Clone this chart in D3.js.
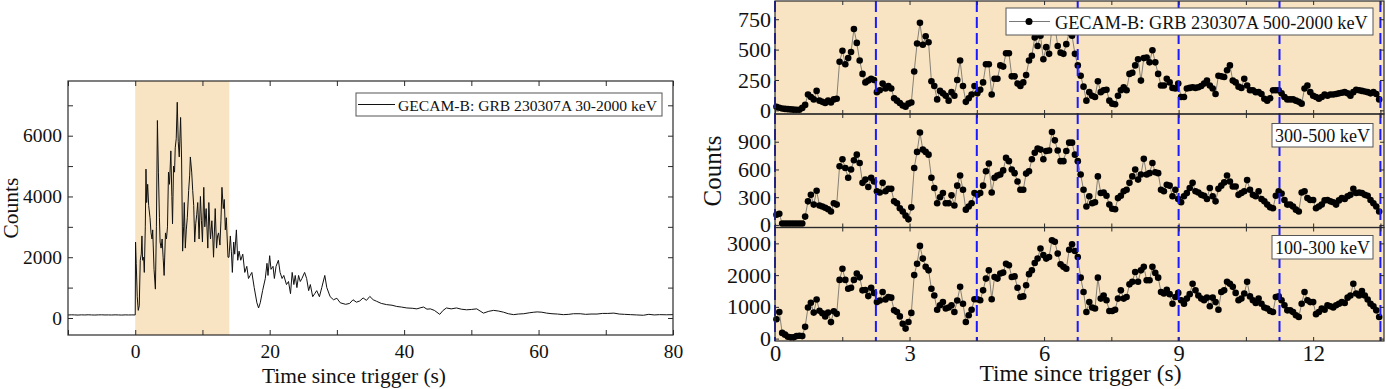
<!DOCTYPE html>
<html><head><meta charset="utf-8">
<script src="https://cdn.jsdelivr.net/npm/d3@7"></script>
<style>body{margin:0;background:#fff}svg{display:block}</style>
</head><body>
<svg id="c" width="1386" height="389"></svg>
<script>
// ---------------- DATA ----------------
// Left panel: GECAM-B 30-2000 keV light curve (time s, counts)
const leftTime = [-10,-9.5,-9,-8.5,-8,-7.5,-7,-6.5,-6,-5.5,-5,-4.5,-4,-3.5,-3,-2.5,-2,-1.5,-1,-0.5,
0,0.05,0.15,0.3,0.45,0.6,0.75,0.9,1.0,1.1,
1.25,1.35,1.5,1.6,1.7,1.85,2.0,2.2,2.35,2.5,
2.6,2.8,3.0,3.15,3.3,3.45,3.6,3.7,3.85,4.0,
4.15,4.3,4.5,4.65,4.8,4.95,5.1,5.3,5.45,5.55,
5.7,5.85,5.95,6.1,6.25,6.4,6.55,6.75,6.9,7.05,
7.2,7.3,7.45,7.6,7.75,7.95,8.1,8.2,8.4,8.55,
8.7,8.85,9.0,9.15,9.3,9.5,9.7,9.85,10.0,10.2,
10.35,10.55,10.8,10.95,11.1,11.2,11.4,11.55,11.65,11.9,
12.1,12.25,12.4,12.6,12.75,12.9,13.1,13.25,13.4,13.55,
13.8,13.95,14.15,14.3,14.45,14.65,14.8,15.05,15.25,15.45,
15.7,16.0,16.3,16.6,16.85,17.1,17.35,17.7,18.1,18.35,
18.6,18.95,19.35,19.6,19.75,20.0,20.2,20.5,20.7,20.95,
21.3,21.55,21.85,22.1,22.5,22.8,23.1,23.35,23.6,23.8,
24.05,24.3,24.55,24.8,25.2,25.5,25.8,26.05,26.4,26.7,
27.0,27.4,27.75,28.2,28.5,29.0,29.5,30.0,30.5,31.3,
31.9,32.4,32.9,33.4,33.9,34.4,34.9,35.4,35.9,36.6,
37.4,38.2,38.9,39.6,40.4,41.2,41.9,42.5,42.9,43.4,
43.9,44.5,45.3,45.8,46.3,47.0,47.8,48.5,49.3,50.0,
50.8,51.3,51.8,52.6,53.3,54.0,54.8,55.5,56.3,57.0,
57.8,58.6,59.3,59.8,60.5,61.2,62.0,62.8,63.7,64.5,
65.2,66.2,67.0,67.8,68.7,69.5,70.3,71.2,72.0,72.8,
73.7,74.6,75.6,76.4,77.2,78.0,79.0,80.0];
const leftCounts = [98,104,101,96,103,99,105,100,97,102,104,99,101,98,103,100,96,102,99,101,
100,2500,1800,700,250,400,1900,2100,2700,1900,
2000,1500,3000,4900,3800,4400,3700,3300,2800,2600,
2900,1600,950,3000,6500,4800,3300,2500,2300,2600,
2000,1400,2800,2600,3000,4800,4400,5500,4000,3100,
5000,4800,5600,5900,7100,5800,5300,6600,5200,2200,
3000,3800,2300,2900,3300,4200,4700,5300,4800,4200,
3700,2500,3100,3400,3800,2600,4000,3200,2500,4300,
3000,3600,2300,3800,3000,2600,3200,2600,2000,3600,
2300,2700,2800,2400,3200,4300,3600,3900,2900,3300,
2000,2000,2700,2200,1500,2500,2100,2900,1900,2200,
1900,2100,1500,1700,1300,1400,1500,1000,500,330,
500,900,1300,1800,1400,2050,1600,1700,1300,1700,
1900,1500,1300,1400,1100,1200,800,1500,1100,1400,
1000,1400,1200,1300,1500,1300,900,1100,700,800,
900,700,1000,1400,1000,700,600,650,500,450,
480,600,520,560,660,580,710,600,550,480,
440,420,380,360,330,320,300,340,360,290,
300,250,120,250,330,300,330,290,270,280,
300,230,160,220,250,230,190,140,110,130,
140,170,190,200,190,160,140,130,110,120,
140,140,120,130,130,150,150,160,130,120,
110,100,90,120,100,110,105,110];

// Right panels: 64 ms binned counts, 0 - 13.5 s
const binWidth = 0.064;
const counts500to2000 = [30,22,15,12,10,8,6,5,5,20,45,130,110,90,160,80,70,60,80,65,
90,95,400,490,380,430,480,670,555,410,300,230,245,260,250,150,165,220,180,200,
180,100,80,60,40,30,55,65,320,550,720,540,610,560,240,200,90,160,140,120,
80,150,120,250,410,200,70,100,130,200,140,170,230,380,380,130,260,260,370,360,
470,470,280,280,220,200,230,290,410,450,600,530,
615,420,520,465,680,700,530,475,465,545,640,615,465,370,285,195,80,150,120,110,
240,150,165,170,80,55,50,120,165,190,165,300,310,370,420,245,430,435,395,495,
395,300,205,205,260,230,185,180,220,110,110,180,185,190,185,190,200,220,245,205,
180,135,285,280,275,330,370,245,230,195,185,260,205,165,165,150,150,135,95,80,
100,165,165,165,140,110,90,90,90,80,70,55,180,205,150,120,110,95,110,130,
120,130,130,135,140,145,150,140,120,150,170,165,160,155,150,140,150,135,90];
const counts300to500 = [110,120,15,15,15,15,15,15,15,15,
90,255,325,220,370,210,200,185,170,145,
235,220,635,710,615,510,600,700,760,670,
455,490,410,510,470,365,350,455,365,390,
390,255,235,180,145,100,60,190,615,790,
1000,815,790,760,510,400,235,300,345,235,
235,320,210,425,535,380,165,200,235,345,
325,345,425,580,665,350,510,535,545,590,
725,690,600,560,470,380,380,555,580,710,
780,825,
815,710,800,805,1005,915,805,690,690,800,
890,890,760,690,545,380,200,310,235,245,
525,345,350,315,220,175,170,290,315,365,
380,455,525,600,490,545,715,545,560,670,
570,560,380,365,435,425,310,380,280,245,
310,345,400,455,365,350,325,315,280,400,
310,255,390,425,460,535,470,415,415,325,
345,365,485,380,325,310,365,280,255,220,
190,180,315,365,340,270,220,220,200,165,
145,350,365,290,270,270,180,200,220,265,
270,255,245,220,265,290,280,310,325,390,
345,350,345,325,315,270,235,200,145];
const counts100to300 = [610,840,180,125,60,40,40,80,90,80,
370,980,1130,820,1230,880,800,700,820,520,
860,780,1850,2200,1850,1570,1600,1850,2050,1930,
1520,1530,1340,1600,1440,1150,1200,1470,1230,1310,
1290,890,840,700,470,315,525,810,2000,2360,
2920,2520,2260,2150,1570,1360,910,1050,1150,950,
980,1050,840,1200,1630,1100,525,735,910,1240,
1240,1210,1520,1890,2150,1240,1940,1890,2050,2080,
2360,2310,1940,1960,1600,1310,1330,1680,2030,2150,
2380,2520,
2840,2630,2520,2570,3100,3050,2680,2340,2260,2200,
2800,2970,2760,2570,1920,1470,840,1150,980,950,
1920,1260,1360,1210,870,870,910,1260,1520,1260,
1310,1710,1790,2100,1790,2150,2260,1840,1840,2260,
2070,1920,1470,1420,1540,1400,1100,1310,1440,1210,
1100,1260,1400,1730,1520,1360,1260,1210,1290,1020,
1290,1150,910,1470,1520,1790,1730,1630,1440,1210,
1260,1420,1790,1330,1210,1120,1260,1100,980,950,
870,840,1310,1330,1210,1050,890,890,840,735,
680,1100,1470,1210,1150,1150,770,840,950,910,
1050,1020,980,1050,1100,1150,1120,1290,1360,1730,
1420,1360,1500,1360,1230,1100,1020,890,680];

// Ticks, labels, markers
const leftXTickLabels = [0,20,40,60,80];
const leftXTicks = [-10,0,10,20,30,40,50,60,70,80];
const leftYTickLabels = [0,2000,4000,6000];
const leftYTicks = [0,1000,2000,3000,4000,5000,6000,7000];
const rightXTickLabels = [0,3,6,9,12];
const rightXTicks = [0,1.5,3,4.5,6,7.5,9,10.5,12,13.5];
const yTicks500to2000 = [0,250,500,750];
const yTicks300to500 = [0,300,600,900];
const yTicks100to300 = [0,1000,2000,3000];
const dashedTimes = [0,2.25,4.5,6.75,9,11.25,13.5];
const shadeRange = [0,14];
const leftLegend = "GECAM-B: GRB 230307A 30-2000 keV";
const panelLabels = ["GECAM-B: GRB 230307A 500-2000 keV","300-500 keV","100-300 keV"];
const xTitle = "Time since trigger (s)";
const yTitle = "Counts";

[counts500to2000,counts300to500,counts100to300].forEach((a,i)=>{ if(a.length!==211) throw new Error("len "+i+" "+a.length); });
if (leftTime.length!==leftCounts.length) throw new Error("left len "+leftTime.length+" "+leftCounts.length);

// ---------------- DRAW ----------------
const FONT = '"Liberation Serif","Times New Roman",serif';
const SHADE = "#f8e4c2";
const AX = "#2a2a2a";
const svg = d3.select("#c");
const plain = d => String(d);

function styleAxis(g, size){
  g.attr("font-family", FONT).attr("font-size", size);
  g.select(".domain").remove();
  g.selectAll(".tick line").attr("stroke", AX).attr("stroke-width", 1);
  g.selectAll(".tick text").attr("fill", "#111");
}

// ---- Left panel ----
const L = {x0:68, x1:673, y0:81, y1:335};
const xL = d3.scaleLinear().domain([-10,80]).range([L.x0,L.x1]);
const yL = d3.scaleLinear().domain([-560,7800]).range([L.y1,L.y0]);

svg.append("rect").attr("x", xL(shadeRange[0])).attr("y", L.y0)
  .attr("width", xL(shadeRange[1]) - xL(shadeRange[0])).attr("height", L.y1 - L.y0).attr("fill", SHADE);

svg.append("path").datum(d3.zip(leftTime, leftCounts))
  .attr("d", d3.line().x(d => xL(d[0])).y(d => yL(d[1])))
  .attr("fill","none").attr("stroke","#111").attr("stroke-width",1).attr("stroke-linejoin","round");

svg.append("rect").attr("x",L.x0).attr("y",L.y0).attr("width",L.x1-L.x0).attr("height",L.y1-L.y0)
  .attr("fill","none").attr("stroke",AX).attr("stroke-width",1.2);

styleAxis(svg.append("g").attr("transform",`translate(0,${L.y1})`)
  .call(d3.axisBottom(xL).tickValues(leftXTicks).tickSize(-5).tickPadding(9)
    .tickFormat(d => leftXTickLabels.includes(d) ? plain(d) : "")), 19.5);
styleAxis(svg.append("g").attr("transform",`translate(0,${L.y0})`)
  .call(d3.axisTop(xL).tickValues(leftXTicks).tickSize(-5).tickFormat("")), 19.5);
styleAxis(svg.append("g").attr("transform",`translate(${L.x0},0)`)
  .call(d3.axisLeft(yL).tickValues(leftYTicks).tickSize(-5).tickPadding(6)
    .tickFormat(d => leftYTickLabels.includes(d) ? plain(d) : "")), 19.5);
styleAxis(svg.append("g").attr("transform",`translate(${L.x1},0)`)
  .call(d3.axisRight(yL).tickValues(leftYTicks).tickSize(-5).tickFormat("")), 19.5);

// legend (left)
svg.append("rect").attr("x",356).attr("y",93).attr("width",306).attr("height",23)
  .attr("fill","#fff").attr("stroke","#555").attr("stroke-width",1);
svg.append("line").attr("x1",358).attr("x2",395).attr("y1",104.5).attr("y2",104.5).attr("stroke","#111").attr("stroke-width",1);
svg.append("text").attr("x",398).attr("y",110.5).attr("font-family",FONT).attr("font-size",15.6).attr("fill","#111").text(leftLegend);

// titles (left)
svg.append("text").attr("x",354).attr("y",383).attr("text-anchor","middle")
  .attr("font-family",FONT).attr("font-size",21.4).attr("fill","#111").text(xTitle);
svg.append("text").attr("transform","translate(10,208) rotate(-90)").attr("dy","0.35em").attr("text-anchor","middle")
  .attr("font-family",FONT).attr("font-size",21.5).attr("fill","#111").text(yTitle);

// ---- Right panels ----
const R = {x0:775, x1:1384, y0:1, y1:341};
const xR = d3.scaleLinear().domain([0,13.58]).range([R.x0,R.x1]);
const panels = [
  {top:1, bottom:114, domain:[-30,900], ticks:yTicks500to2000, data:counts500to2000},
  {top:114, bottom:227.5, domain:[-28,1200], ticks:yTicks300to500, data:counts300to500},
  {top:227.5, bottom:341, domain:[-75,3500], ticks:yTicks100to300, data:counts100to300}
];

svg.append("rect").attr("x",R.x0).attr("y",R.y0).attr("width",R.x1-R.x0).attr("height",R.y1-R.y0).attr("fill",SHADE);

panels.forEach((p, k) => {
  const y = d3.scaleLinear().domain(p.domain).range([p.bottom, p.top]);
  p.y = y;
  const pts = p.data.map((v,i) => [(i+0.5)*binWidth, v]);
  const g = svg.append("g");
  g.append("path").datum(pts)
    .attr("d", d3.line().x(d => xR(d[0])).y(d => y(d[1])))
    .attr("fill","none").attr("stroke","#555").attr("stroke-width",0.7);
  g.selectAll("circle").data(pts).join("circle")
    .attr("cx", d => xR(d[0])).attr("cy", d => y(d[1])).attr("r", 3.3).attr("fill","#000");
});

// dashed blue lines
svg.selectAll("line.dash").data(dashedTimes).join("line").attr("class","dash")
  .attr("x1", d => xR(d)).attr("x2", d => xR(d)).attr("y1", R.y0).attr("y2", R.y1)
  .attr("stroke","#1a1aff").attr("stroke-width",2).attr("stroke-dasharray","11,5");

panels.forEach((p, k) => {
  svg.append("rect").attr("x",R.x0).attr("y",p.top).attr("width",R.x1-R.x0).attr("height",p.bottom-p.top)
    .attr("fill","none").attr("stroke",AX).attr("stroke-width",1.2);
  styleAxis(svg.append("g").attr("transform",`translate(0,${p.bottom})`)
    .call(d3.axisBottom(xR).tickValues(rightXTicks).tickSize(-4).tickPadding(4.5)
      .tickFormat(d => (k===2 && rightXTickLabels.includes(d)) ? plain(d) : "")), 22.5);
  styleAxis(svg.append("g").attr("transform",`translate(0,${p.top})`)
    .call(d3.axisTop(xR).tickValues(rightXTicks).tickSize(-4).tickFormat("")), 22.5);
  styleAxis(svg.append("g").attr("transform",`translate(${R.x0},0)`)
    .call(d3.axisLeft(p.y).tickValues(p.ticks).tickSize(-4).tickPadding(4).tickFormat(plain)), 22);
  styleAxis(svg.append("g").attr("transform",`translate(${R.x1},0)`)
    .call(d3.axisRight(p.y).tickValues(p.ticks).tickSize(-4).tickFormat("")), 22);
});

// legends (right)
svg.append("rect").attr("x",1006).attr("y",8).attr("width",367).attr("height",27)
  .attr("fill","#fff").attr("stroke","#555").attr("stroke-width",1);
svg.append("line").attr("x1",1009).attr("x2",1050).attr("y1",21.5).attr("y2",21.5).attr("stroke","#555").attr("stroke-width",0.8);
svg.append("circle").attr("cx",1029).attr("cy",21.5).attr("r",3.5).attr("fill","#000");
svg.append("text").attr("x",1055).attr("y",29).attr("font-family",FONT).attr("font-size",18.3).attr("fill","#111").text(panelLabels[0]);

[[123.5,142],[235.5,254]].forEach((b,i) => {
  svg.append("rect").attr("x",1272).attr("y",b[0]).attr("width",101).attr("height",23.5)
    .attr("fill","#fff").attr("stroke","#555").attr("stroke-width",1);
  svg.append("text").attr("x",1322.5).attr("y",b[1]).attr("text-anchor","middle")
    .attr("font-family",FONT).attr("font-size",18.1).attr("fill","#111").text(panelLabels[i+1]);
});

// titles (right)
svg.append("text").attr("x",1080.5).attr("y",381).attr("text-anchor","middle")
  .attr("font-family",FONT).attr("font-size",23.5).attr("fill","#111").text(xTitle);
svg.append("text").attr("transform","translate(712.5,171) rotate(-90)").attr("dy","0.35em").attr("text-anchor","middle")
  .attr("font-family",FONT).attr("font-size",25).attr("fill","#111").text(yTitle);
</script>
</body></html>
